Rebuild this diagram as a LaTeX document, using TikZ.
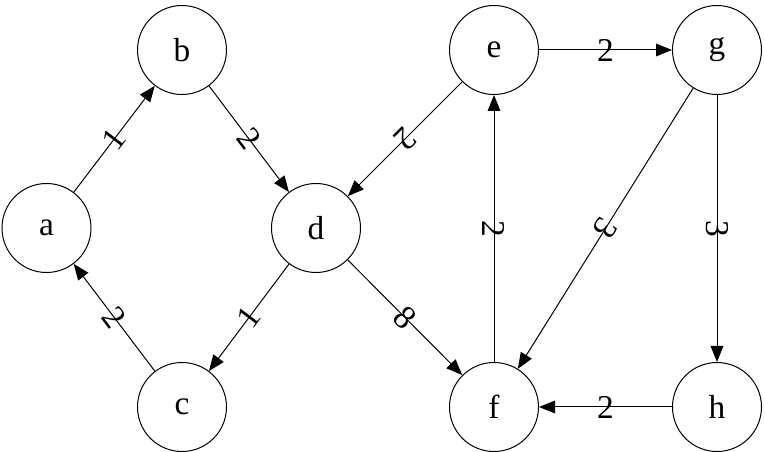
\documentclass[tikz,border=0pt]{standalone}
\usepackage{fontspec}
\setmainfont{Liberation Serif}
\usetikzlibrary{arrows.meta}
\begin{document}
\begin{tikzpicture}[x=0.75pt,y=-0.75pt,
  vertex/.style={circle,draw,line width=0.75pt,minimum size=66.75pt,inner sep=0pt,font=\fontsize{25}{25}\selectfont},
  conn/.style={line width=0.75pt,-{Triangle[length=12pt,width=9.5pt]}},
  rconn/.style={line width=0.75pt,{Triangle[length=12pt,width=9.5pt]}-},
  lab/.style={font=\fontsize{25}{25}\selectfont,inner sep=0pt,midway,sloped}]
\useasboundingbox (0,0) rectangle (765,452);
\node[vertex] (a) at (46.5,228) {a};
\node[vertex] (b) at (182,50) {b};
\node[vertex] (c) at (182,407) {c};
\node[vertex] (d) at (316,228) {d};
\node[vertex] (e) at (494,50) {e};
\node[vertex] (f) at (494,407) {f};
\node[vertex] (g) at (717,50) {g};
\node[vertex] (h) at (717,407) {h};
\draw[conn] (a) -- node[lab] {1} (b);
\draw[conn] (b) -- node[lab] {2} (d);
\draw[conn] (c) -- node[lab] {2} (a);
\draw[conn] (d) -- node[lab] {1} (c);
\draw[conn] (e) -- node[lab,allow upside down] {2} (d);
\draw[conn] (d) -- node[lab] {8} (f);
\draw[rconn] (e) -- node[lab] {2} (f);
\draw[conn] (e) -- node[lab] {2} (g);
\draw[conn] (g) -- node[lab,allow upside down] {3} (f);
\draw[conn] (g) -- node[lab] {3} (h);
\draw[conn] (h) -- node[lab] {2} (f);
\end{tikzpicture}
\end{document}
